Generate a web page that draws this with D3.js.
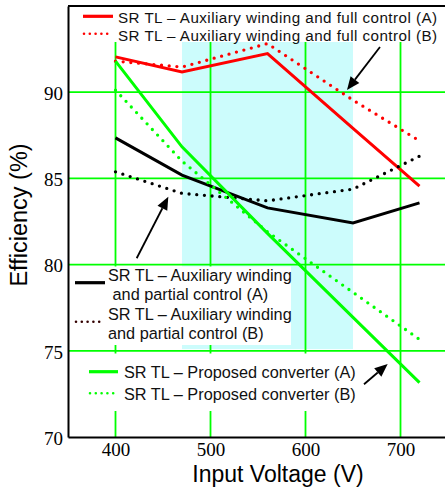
<!DOCTYPE html>
<html>
<head>
<meta charset="utf-8">
<script src="https://cdn.jsdelivr.net/npm/d3@7"></script>
<style>
  html, body { margin: 0; padding: 0; background: #fff; }
  svg { display: block; }
</style>
</head>
<body>
<div id="chart"></div>
<script>
// ---- Data ----
const voltages = [400, 470, 560, 650, 720];
const fullCtrlA    = [92.05, 91.18, 92.24, 87.9, 84.55];
const fullCtrlB    = [91.8, 91.46, 92.82, 89.54, 87.18];
const partialCtrlA = [87.35, 85.19, 83.29, 82.42, 83.58];
const partialCtrlB = [85.38, 84.13, 83.70, 84.38, 86.29];
const proposedA    = [91.8, 86.83, 81.81, 76.94, 73.15];
const proposedB    = [90.12, 86.0, 81.9, 78.39, 75.66];

const xTicks = [400, 500, 600, 700];
const yTicks = [70, 75, 80, 85, 90];
const gridY = [75, 80, 85, 90];
const shadedRange = [470, 650];
const shadedEff = [75.1, 95];

const legendTop = [
  "SR TL – Auxiliary winding and full control (A)",
  "SR TL – Auxiliary winding and full control (B)"
];
const legendMid = [
  "SR TL – Auxiliary winding",
  " and partial control (A)",
  "SR TL – Auxiliary winding",
  "and partial control (B)"
];
const legendBot = [
  "SR TL – Proposed converter (A)",
  "SR TL – Proposed converter (B)"
];
// arrows: [tailV, tailEff, tipV, tipEff]
const arrows = [
  [678.4, 92.62, 643.7, 90.13],
  [422.3, 80.37, 455.6, 83.94],
  [661.6, 73.06, 686.5, 74.23]
];

// ---- Layout ----
const W = 445, H = 489;
const svg = d3.select("#chart").append("svg").attr("width", W).attr("height", H);

const x = d3.scaleLinear().domain([350, 750]).range([68, 448]);
const y = d3.scaleLinear().domain([70, 95]).range([437, 6]);

const GREEN = "#00ff00", RED = "#ff0000";

// shaded band
svg.append("rect")
  .attr("x", x(shadedRange[0])).attr("y", y(shadedEff[1]))
  .attr("width", x(shadedRange[1]) - x(shadedRange[0]))
  .attr("height", y(shadedEff[0]) - y(shadedEff[1]))
  .attr("fill", "#ccfcfc");

// grid
const grid = svg.append("g").attr("stroke", GREEN).attr("stroke-width", 1.8);
grid.selectAll("line.v").data(xTicks).join("line")
  .attr("x1", d => x(d)).attr("x2", d => x(d))
  .attr("y1", y(95)).attr("y2", y(70));
grid.selectAll("line.h").data(gridY).join("line")
  .attr("x1", x(350)).attr("x2", x(750))
  .attr("y1", d => y(d)).attr("y2", d => y(d));

// legend white boxes (cover grid)
svg.append("rect").attr("x", 69).attr("y", 7).attr("width", 380).attr("height", 35).attr("fill", "#fff");
svg.append("rect").attr("x", 69).attr("y", 266.5).attr("width", 222).attr("height", 78.5).attr("fill", "#fff");
svg.append("rect").attr("x", 69).attr("y", 353.5).attr("width", 293).attr("height", 57.5).attr("fill", "#fff");

// series
const line = d3.line().x((d, i) => x(voltages[i])).y(d => y(d));
const series = [
  { v: fullCtrlA, c: RED, dot: false },
  { v: fullCtrlB, c: RED, dot: true },
  { v: partialCtrlA, c: "#000", dot: false },
  { v: partialCtrlB, c: "#000", dot: true },
  { v: proposedA, c: GREEN, dot: false },
  { v: proposedB, c: GREEN, dot: true }
];
series.forEach(s => {
  svg.append("path").datum(s.v)
    .attr("d", line)
    .attr("fill", "none")
    .attr("stroke", s.c)
    .attr("stroke-width", s.dot ? 3.3 : 3)
    .attr("stroke-linecap", s.dot ? "round" : "butt")
    .attr("stroke-linejoin", "miter")
    .attr("stroke-dasharray", s.dot ? "0 7.7" : null);
});

// axes
const yAxis = d3.axisLeft(y).tickValues(yTicks).tickSize(0).tickPadding(5).tickFormat(d3.format("d"));
const gy = svg.append("g").attr("transform", `translate(${x(350)},0)`).call(yAxis);
gy.select(".domain").attr("stroke", "#000").attr("stroke-width", 2);
gy.selectAll("text").attr("font-family", "'Liberation Serif', 'Times New Roman', serif")
  .attr("font-size", 19).attr("fill", "#000").attr("dy", "0.38em");

const xAxis = d3.axisBottom(x).tickValues(xTicks).tickSize(0).tickPadding(6).tickFormat(d3.format("d"));
const gx = svg.append("g").attr("transform", `translate(0,${y(70)})`).call(xAxis);
gx.select(".domain").attr("stroke", "#000").attr("stroke-width", 2);
gx.selectAll("text").attr("font-family", "'Liberation Serif', 'Times New Roman', serif")
  .attr("font-size", 19).attr("fill", "#000");

// top border
svg.append("line").attr("x1", x(350)).attr("x2", x(750)).attr("y1", y(95)).attr("y2", y(95))
  .attr("stroke", "#000").attr("stroke-width", 2);

// axis titles
const SANS = "'Liberation Sans', Arial, Helvetica, sans-serif";
svg.append("text").attr("transform", "translate(27,215) rotate(-90)")
  .attr("text-anchor", "middle").attr("font-family", SANS).attr("font-size", 23.5)
  .text("Efficiency (%)");
svg.append("text").attr("x", 278).attr("y", 482)
  .attr("text-anchor", "middle").attr("font-family", SANS).attr("font-size", 23)
  .text("Input Voltage (V)");

// legends
function sample(x1, x2, yy, color, dot) {
  svg.append("line").attr("x1", x1).attr("x2", x2).attr("y1", yy).attr("y2", yy)
    .attr("stroke", color).attr("stroke-width", dot ? 2.6 : 3.2)
    .attr("stroke-linecap", dot ? "round" : "butt")
    .attr("stroke-dasharray", dot ? "0 5.8" : null);
}
function label(tx, ty, t, fs, ls) {
  svg.append("text").attr("x", tx).attr("y", ty).attr("font-family", SANS)
    .attr("font-size", fs || 16.3).attr("letter-spacing", ls || 0)
    .attr("fill", "#111").attr("xml:space", "preserve")
    .style("white-space", "pre").text(t);
}
sample(83, 113, 16.3, RED, false);
sample(84, 113, 33.8, RED, true);
label(118, 23, legendTop[0], 15.2, 0.45);
label(118, 40.5, legendTop[1], 15.2, 0.45);

sample(75, 105, 282.7, "#000", false);
sample(76, 105, 321.7, "#300", true);
label(108, 281, legendMid[0]);
label(108, 299.5, legendMid[1]);
label(108, 319.5, legendMid[2]);
label(108, 338.5, legendMid[3]);

sample(89, 118, 371.7, GREEN, false);
sample(90, 118, 393.3, GREEN, true);
label(124, 377.5, legendBot[0]);
label(124, 399.5, legendBot[1]);

// arrows
arrows.forEach(a => {
  const x1 = x(a[0]), y1 = y(a[1]), x2 = x(a[2]), y2 = y(a[3]);
  const ang = Math.atan2(y2 - y1, x2 - x1);
  const L = 13, Wd = 5.5;
  const bx = x2 - L * Math.cos(ang), by = y2 - L * Math.sin(ang);
  svg.append("line").attr("x1", x1).attr("y1", y1).attr("x2", bx).attr("y2", by)
    .attr("stroke", "#000").attr("stroke-width", 1.8);
  const px = -Math.sin(ang) * Wd, py = Math.cos(ang) * Wd;
  svg.append("path")
    .attr("d", `M${x2},${y2}L${bx + px},${by + py}L${bx - px},${by - py}Z`)
    .attr("fill", "#000");
});
</script>
</body>
</html>
